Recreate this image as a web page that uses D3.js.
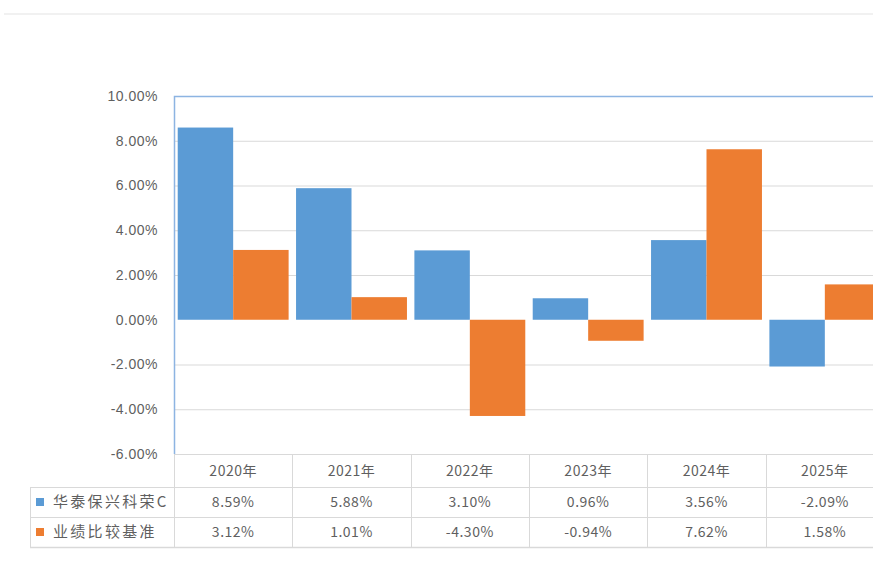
<!DOCTYPE html>
<html>
<head>
<meta charset="utf-8">
<script src="https://cdn.jsdelivr.net/npm/d3@7"></script>
<style>
  body { margin: 0; background: #fff; }
  svg { display: block; font-family: "Noto Sans CJK SC", "Noto Sans", sans-serif; }
</style>
</head>
<body>
<div id="chart"></div>
<script>
var years = ["2020年", "2021年", "2022年", "2023年", "2024年", "2025年"];
var seriesNames = ["华泰保兴科荣C", "业绩比较基准"];
var fundValues = [8.59, 5.88, 3.10, 0.96, 3.56, -2.09];
var benchValues = [3.12, 1.01, -4.30, -0.94, 7.62, 1.58];
var yTicks = [10, 8, 6, 4, 2, 0, -2, -4, -6];
var colors = ["#5b9bd5", "#ed7d31"];

var width = 873, height = 563;
var plotLeft = 174, plotTop = 96, plotBottom = 454;
var colRight = 884;   // last column runs off the page
var rowH = [33, 30, 30];
var textColor = "#5f5f5f";

var svg = d3.select("#chart").append("svg")
    .attr("width", width)
    .attr("height", height);

// thin line across the top of the frame
svg.append("line")
    .attr("x1", 4).attr("x2", width)
    .attr("y1", 14).attr("y2", 14)
    .attr("stroke", "#e3e3e3").attr("stroke-width", 1);

var x0 = d3.scaleBand()
    .domain(years)
    .range([plotLeft, colRight]);

var x1 = d3.scaleBand()
    .domain(seriesNames)
    .range([0, x0.bandwidth()])
    .paddingOuter(0.067);

var y = d3.scaleLinear()
    .domain([-6, 10])
    .range([plotBottom, plotTop]);

// gridlines
svg.append("g")
  .selectAll("line")
  .data(yTicks.filter(function (d) { return d !== 0 && d !== 10 && d !== -6; }))
  .enter().append("line")
    .attr("x1", plotLeft).attr("x2", width)
    .attr("y1", function (d) { return y(d) + 0.5; })
    .attr("y2", function (d) { return y(d) + 0.5; })
    .attr("stroke", "#d9d9d9");

// plot frame (top + left) in light blue
svg.append("path")
    .attr("d", "M" + (plotLeft + 0.5) + "," + plotBottom + "V" + (plotTop + 0.5) + "H" + width)
    .attr("fill", "none")
    .attr("stroke", "#8db4e2")
    .attr("stroke-width", 1.5);

// y axis labels
var yAxis = d3.axisLeft(y)
    .tickValues(yTicks)
    .tickSize(0)
    .tickPadding(16)
    .tickFormat(function (d) { return d.toFixed(2) + "%"; });

var yg = svg.append("g")
    .attr("transform", "translate(" + plotLeft + ",0)")
    .call(yAxis);
yg.select(".domain").remove();
yg.selectAll("text")
    .attr("fill", textColor)
    .style("font-size", "14px")
    .style("letter-spacing", "0.5px");

// bars
var rows = years.map(function (yr, i) {
  return { year: yr, values: [fundValues[i], benchValues[i]] };
});

svg.append("g")
  .selectAll("g")
  .data(rows)
  .enter().append("g")
    .attr("transform", function (d) { return "translate(" + x0(d.year) + ",0)"; })
  .selectAll("rect")
  .data(function (d) { return d.values.map(function (v, j) { return { name: seriesNames[j], v: v, j: j }; }); })
  .enter().append("rect")
    .attr("x", function (d) { return x1(d.name); })
    .attr("width", x1.bandwidth())
    .attr("y", function (d) { return y(Math.max(0, d.v)); })
    .attr("height", function (d) { return Math.abs(y(d.v) - y(0)); })
    .attr("fill", function (d) { return colors[d.j]; });

// data table under the plot
var table = svg.append("g");
var rowY = [plotBottom, plotBottom + rowH[0], plotBottom + rowH[0] + rowH[1], plotBottom + rowH[0] + rowH[1] + rowH[2]];
var tableLeft = 30;
var gridColor = "#d9d9d9";

// horizontal rules
table.append("line")
    .attr("x1", plotLeft).attr("x2", width)
    .attr("y1", rowY[0] + 0.5).attr("y2", rowY[0] + 0.5)
    .attr("stroke", gridColor);
[1, 2, 3].forEach(function (r) {
  table.append("line")
      .attr("x1", tableLeft).attr("x2", width)
      .attr("y1", rowY[r] + 0.5).attr("y2", rowY[r] + 0.5)
      .attr("stroke", gridColor).attr("stroke-width", r === 3 ? 1.5 : 1);
});

// vertical rules
table.append("line")
    .attr("x1", tableLeft + 0.5).attr("x2", tableLeft + 0.5)
    .attr("y1", rowY[1]).attr("y2", rowY[3])
    .attr("stroke", gridColor);
table.selectAll(".vcol")
  .data(years)
  .enter().append("line")
    .attr("class", "vcol")
    .attr("x1", function (d) { return Math.round(x0(d)) + 0.5; })
    .attr("x2", function (d) { return Math.round(x0(d)) + 0.5; })
    .attr("y1", rowY[0])
    .attr("y2", rowY[3])
    .attr("stroke", gridColor);

// year headers
table.selectAll(".yr")
  .data(years)
  .enter().append("text")
    .attr("class", "yr")
    .attr("x", function (d) { return x0(d) + x0.bandwidth() / 2; })
    .attr("y", rowY[0] + rowH[0] / 2 + 5)
    .attr("text-anchor", "middle")
    .attr("fill", textColor)
    .style("font-size", "14px")
    .style("letter-spacing", "0.5px")
    .text(function (d) { return d; });

// value cells
var valueRows = [fundValues, benchValues];
valueRows.forEach(function (vals, r) {
  table.selectAll(".v" + r)
    .data(vals)
    .enter().append("text")
      .attr("class", "v" + r)
      .attr("x", function (d, i) { return x0(years[i]) + x0.bandwidth() / 2; })
      .attr("y", rowY[r + 1] + rowH[r + 1] / 2 + 5)
      .attr("text-anchor", "middle")
      .attr("fill", textColor)
      .style("font-size", "14px")
      .style("letter-spacing", "0.5px")
      .text(function (d) { return d.toFixed(2) + "%"; });
});

// legend keys in the first column (clipped to the cell)
svg.append("defs").append("clipPath")
    .attr("id", "legendClip")
  .append("rect")
    .attr("x", tableLeft).attr("y", rowY[1])
    .attr("width", plotLeft - tableLeft - 2).attr("height", rowY[3] - rowY[1]);

var legend = table.append("g").attr("clip-path", "url(#legendClip)");
seriesNames.forEach(function (name, r) {
  var cy = rowY[r + 1] + rowH[r + 1] / 2;
  legend.append("rect")
      .attr("x", 36).attr("y", cy - 4)
      .attr("width", 8).attr("height", 8)
      .attr("fill", colors[r]);
  legend.append("text")
      .attr("x", 53).attr("y", cy + 5)
      .attr("fill", textColor)
      .style("font-size", "15px")
      .style("letter-spacing", "2.3px")
      .text(name);
});
</script>
</body>
</html>
